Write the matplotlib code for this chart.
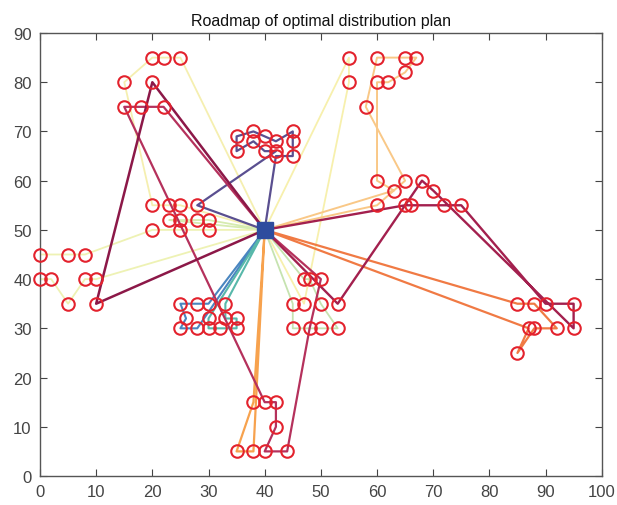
import matplotlib
matplotlib.use('Agg')
import matplotlib.pyplot as plt

plt.rcParams['font.family'] = ['Liberation Sans', 'DejaVu Sans']

# ---- data ----
depot = (40, 50)

route_I = [(25, 85), (22, 85), (20, 85), (15, 80), (20, 55), (23, 55), (25, 55)]
route_J = [(30, 50), (25, 50), (20, 50), (8, 45), (5, 45), (0, 45), (0, 40), (2, 40),
           (5, 35), (8, 40), (10, 40)]
route_K = [(30, 52), (28, 52), (25, 52), (23, 52)]
route_M = [(55, 85), (55, 80), (47, 35)]
route_H = [(47, 40), (48, 40), (50, 35), (53, 30), (50, 30), (45, 30), (45, 35)]
route_L = [(63, 58), (60, 60), (60, 80), (62, 80), (65, 82), (67, 85), (65, 85), (60, 85),
           (58, 75), (65, 60), (60, 55)]
route_G1 = [(30, 35), (28, 35), (25, 35), (26, 32), (25, 30), (28, 30)]
route_G2 = [(33, 35), (33, 32), (35, 32), (35, 30), (32, 30), (30, 30), (30, 32)]
route_E = [(38, 15), (35, 5), (38, 5)]
route_D = [(85, 35), (88, 35), (92, 30), (88, 30), (85, 25), (87, 30)]
route_F = [(42, 65), (45, 65), (45, 68), (45, 70), (42, 68), (40, 69), (38, 70), (35, 69),
           (35, 66), (38, 68), (40, 66), (42, 66), (28, 55)]
route_B = [(22, 75), (18, 75), (15, 75), (40, 15), (42, 15), (42, 10), (40, 5), (44, 5),
           (48, 30), (50, 40)]
route_C = [(53, 35), (68, 60), (70, 58), (95, 30), (95, 35), (90, 35), (75, 55), (72, 55),
           (66, 55), (65, 55)]
route_A = [(10, 35), (20, 80)]

routes = [route_I, route_J, route_K, route_M, route_H, route_L, route_G1, route_G2,
          route_E, route_D, route_F, route_B, route_C, route_A]
route_colors = ['#f5efb0', '#eef2b4', '#d6ebb0', '#f7f0ad', '#c6e3b0', '#f9c887',
                '#4a86c0', '#58b8aa', '#f7a24e', '#f07a44', '#5a4f90', '#b5315c',
                '#a3204e', '#8c1848']
route_widths = [1.3, 1.3, 1.3, 1.3, 1.3, 1.4, 1.5, 1.5, 1.6, 1.6, 1.6, 1.6, 1.7, 1.8]

title = 'Roadmap of optimal distribution plan'

# ---- plot ----
fig = plt.figure(figsize=(6.17, 5.06), dpi=100)
ax = fig.add_axes([40 / 617, 1 - 477 / 506, (601.7 - 40) / 617, (477 - 34) / 506])

for r, c, w in zip(routes, route_colors, route_widths):
    xs = [depot[0]] + [p[0] for p in r] + [depot[0]]
    ys = [depot[1]] + [p[1] for p in r] + [depot[1]]
    ax.plot(xs, ys, '-', color=c, lw=w, zorder=2)

for r in routes:
    ax.plot([p[0] for p in r], [p[1] for p in r], 'o', ls='none', mfc='none',
            mec='#e3222d', ms=9, mew=1.5, zorder=3, clip_on=False)

ax.plot([depot[0]], [depot[1]], 's', color='#2f4c9e', ms=12, zorder=4)

ax.set_xlim(0, 100)
ax.set_ylim(0, 90)
ax.set_xticks(range(0, 101, 10))
ax.set_yticks(range(0, 91, 10))
ax.tick_params(direction='in', length=5, width=0.8, top=True, right=True,
               labelsize=12, colors='#444444', pad=6)
for s in ax.spines.values():
    s.set_color('#555555')
    s.set_linewidth(1.0)
ax.set_title(title, fontsize=11.5, color='#111111', pad=6)

fig.savefig('out.png', dpi=100)
